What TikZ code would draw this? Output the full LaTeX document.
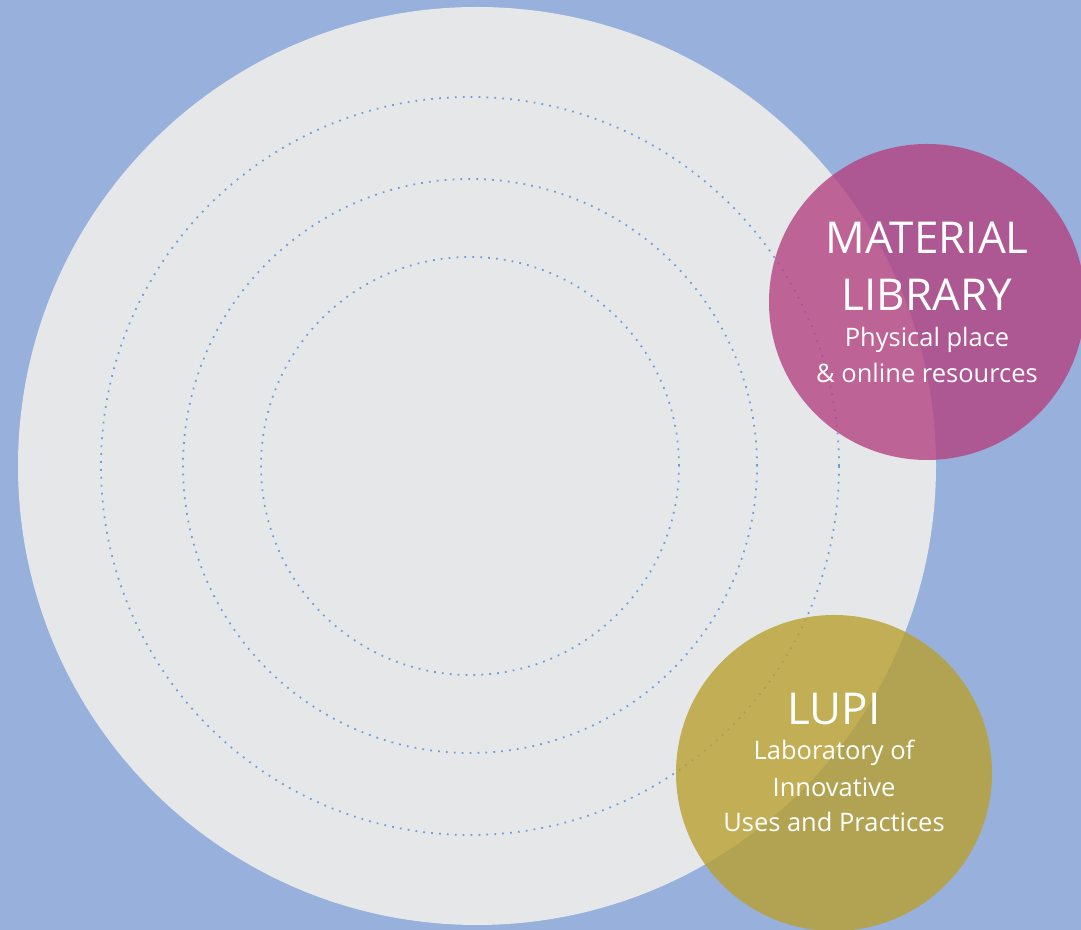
\documentclass[tikz,border=0pt]{standalone}
\usepackage{fontspec}
\setmainfont{Open Sans}
\definecolor{skyblue}{RGB}{151,176,220}
\definecolor{palegrey}{RGB}{230,231,233}
\definecolor{dotblue}{RGB}{110,155,220}
\definecolor{plum}{RGB}{180,67,129}
\definecolor{ochre}{RGB}{185,160,49}
\newcommand{\bigsz}{\fontsize{25}{20}\selectfont}
\newcommand{\smallsz}{\fontsize{14.5}{20}\selectfont}
\tikzset{
  ring/.style={dotblue, line width=1pt, dash pattern=on 1pt off 3.5pt},
  blob/.style={circle, fill opacity=0.8, text opacity=1, text=white, align=center, inner sep=0pt,
    minimum size=6.32cm, font=\smallsz},
}
\begin{document}
\begin{tikzpicture}
        % Background
        \fill[skyblue] (0,0) rectangle (21.62,18.6);
        \useasboundingbox (0,0) rectangle (21.62,18.6);
        \clip (0,0) rectangle (21.62,18.6);

        % Big disc
        \fill[palegrey] (9.54,9.28) circle (9.18);

        % Rings
        \draw[ring] (9.40,9.28) circle (7.38);
        \draw[ring] (9.40,9.28) circle (5.74);
        \draw[ring] (9.40,9.28) circle (4.18);

        % Circles
        \node[blob, fill=plum] (matlib) at (18.54,12.56)
            {\bigsz MATERIAL\\[12.4pt]\bigsz LIBRARY\\[1pt]
             Physical place\\\& online resources};
        \node[blob, fill=ochre] (lupi) at (16.68,3.14)
            {\bigsz LUPI\\
             Laboratory of\\[1pt]Innovative\\Uses and Practices\rule[-12.5pt]{0pt}{12.5pt}};
    \end{tikzpicture}
\end{document}
